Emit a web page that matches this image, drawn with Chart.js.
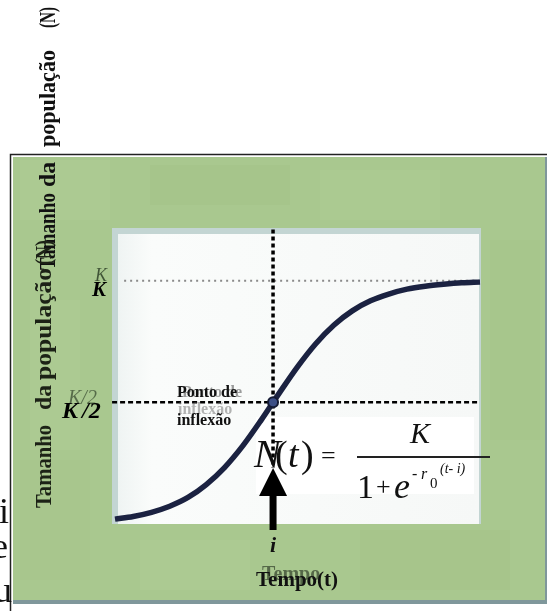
<!DOCTYPE html>
<html>
<head>
<meta charset="utf-8">
<title>Crescimento logístico</title>
<script src="https://cdn.jsdelivr.net/npm/chart.js@4.4.1/dist/chart.umd.min.js"></script>
<style>
  html, body { margin: 0; padding: 0; background: #ffffff; }
  #box { width: 547px; height: 611px; }
</style>
</head>
<body>
<div id="box"><canvas id="grafico" width="547" height="611"></canvas></div>
<script>
// Tempo (t) e tamanho da população, em frações de K
const tempo = [0, 0.5, 1, 1.5, 2, 2.5, 3, 3.5, 4, 4.5, 5, 5.5, 6, 6.5, 7, 7.5, 8, 8.5, 9, 9.5, 10];
const populacao = [0.020, 0.031, 0.048, 0.073, 0.109, 0.162, 0.232, 0.321, 0.426, 0.538, 0.646,
                   0.741, 0.818, 0.876, 0.917, 0.945, 0.965, 0.977, 0.985, 0.991, 0.994];

// Ponto de inflexão (i, K/2) e níveis de referência
const tInflexao = 4.33;
const nivelK = 1;
const nivelMeio = 0.5;
const pontaSeta = 0.23;

const serif = '"Liberation Serif", "Times New Roman", serif';
const verde = "#a9c88f";

// Palavra girada -90°, ajustada entre yIni (embaixo) e yFim (em cima)
function palavraVertical(ctx, str, x, yIni, yFim, font, color) {
    ctx.save();
    ctx.font = font;
    ctx.fillStyle = color;
    ctx.translate(x, yIni);
    ctx.rotate(-Math.PI / 2);
    const w = ctx.measureText(str).width;
    ctx.scale((yIni - yFim) / w, 1);
    ctx.fillText(str, 0, 0);
    ctx.restore();
}

function texto(ctx, str, x, y, font, color, align) {
    ctx.font = font;
    ctx.fillStyle = color;
    ctx.textAlign = align || "left";
    ctx.textBaseline = "alphabetic";
    ctx.fillText(str, x, y);
}

// Fundo: moldura verde, área branca e caixa da fórmula
const moldura = {
    id: "moldura",
    beforeDraw(chart) {
        const ctx = chart.ctx;
        const a = chart.chartArea;
        ctx.save();
        ctx.fillStyle = "#ffffff";
        ctx.fillRect(0, 0, chart.width, chart.height);

        // quadro verde
        ctx.fillStyle = verde;
        ctx.fillRect(13, 157, 534, 445);
        // manchas leves da textura
        const manchas = [[20, 160, 90, 60, "#b3d09b"], [150, 165, 140, 40, "#9fc084"], [320, 170, 120, 50, "#b1cf99"],
                         [490, 240, 50, 200, "#a3c389"], [30, 300, 50, 150, "#b2cf9a"], [140, 540, 110, 50, "#b4d09c"],
                         [360, 530, 150, 60, "#a1c186"], [20, 460, 70, 120, "#a4c48a"]];
        manchas.forEach(m => {
            ctx.globalAlpha = 0.3;
            ctx.fillStyle = m[4];
            ctx.fillRect(m[0], m[1], m[2], m[3]);
        });
        ctx.globalAlpha = 1;
        ctx.fillStyle = "#7f979b";
        ctx.fillRect(13, 600, 534, 4);
        ctx.fillRect(545, 157, 2, 447);

        // borda preta do quadro
        ctx.strokeStyle = "#222222";
        ctx.lineWidth = 1.5;
        ctx.beginPath();
        ctx.moveTo(547, 154.5);
        ctx.lineTo(10.5, 154.5);
        ctx.lineTo(10.5, 611);
        ctx.stroke();

        // área do gráfico com sombra azulada à esquerda e em cima
        ctx.fillStyle = "#c3d5d3";
        ctx.fillRect(a.left - 3, a.top - 4, a.right - a.left + 4, a.bottom - a.top + 4);
        const g = ctx.createLinearGradient(a.left, 0, a.right, 0);
        g.addColorStop(0, "#eef3f2");
        g.addColorStop(0.1, "#fafcfb");
        g.addColorStop(1, "#f6f8f7");
        ctx.fillStyle = g;
        ctx.fillRect(a.left + 3, a.top + 2, a.right - a.left - 4, a.bottom - a.top - 2);

        // caixa branca da fórmula
        ctx.fillStyle = "#ffffff";
        ctx.fillRect(256, 417, 218, 77);
        ctx.restore();
    },
    afterDatasetsDraw(chart) {
        const ctx = chart.ctx;
        const x = chart.scales.x.getPixelForValue(tInflexao);
        const yPonta = chart.scales.y.getPixelForValue(pontaSeta);
        ctx.save();
        // seta apontando para i
        ctx.fillStyle = "#000000";
        ctx.fillRect(x - 3.5, yPonta + 25, 7, 530 - yPonta - 25);
        ctx.beginPath();
        ctx.moveTo(x, yPonta);
        ctx.lineTo(x - 14, yPonta + 28);
        ctx.lineTo(x + 14, yPonta + 28);
        ctx.closePath();
        ctx.fill();
        ctx.restore();
    },
    afterDraw(chart) {
        const ctx = chart.ctx;
        ctx.save();
        const negrito = "bold 24px " + serif;

        // títulos do eixo y, girados
        palavraVertical(ctx, "Tamanho", 55, 270, 193, negrito, "#111");
        palavraVertical(ctx, "da", 55, 187, 162, negrito, "#111");
        palavraVertical(ctx, "população", 55, 147, 50, negrito, "#111");
        palavraVertical(ctx, "(N)", 55, 28, 7, negrito, "#111");

        palavraVertical(ctx, "Tamanho", 51, 508, 425, negrito, "#1c2216");
        palavraVertical(ctx, "da", 51, 410, 385, negrito, "#1c2216");
        palavraVertical(ctx, "população", 51, 380, 268, negrito, "#1c2216");
        palavraVertical(ctx, "(N)", 51, 265, 240, negrito, "#1c2216");

        // K e K/2
        texto(ctx, "K", 95, 281, "italic 18px " + serif, "rgba(30,45,25,0.75)");
        texto(ctx, "K", 92, 296, "bold italic 21px " + serif, "#000");
        texto(ctx, "K/2", 68, 404, "italic 20px " + serif, "rgba(30,45,25,0.6)");
        texto(ctx, "K", 62, 418, "bold italic 24px " + serif, "#000");
        texto(ctx, "/2", 82, 418, "bold italic 24px " + serif, "#000");

        // ponto de inflexão
        texto(ctx, "Ponto de", 182, 397, "bold 16px " + serif, "rgba(60,60,60,0.5)");
        texto(ctx, "Ponto de", 177, 397, "bold 16px " + serif, "#111");
        texto(ctx, "inflexão", 178, 414, "bold 16px " + serif, "rgba(90,90,90,0.45)");
        texto(ctx, "inflexão", 177, 425, "bold 16px " + serif, "#111");

        // fórmula N(t) = K / (1 + e^(-r0 (t-i)))
        texto(ctx, "N", 254, 467, "italic 40px " + serif, "#111");
        texto(ctx, "(", 275, 467, "38px " + serif, "#111");
        texto(ctx, "t", 288, 467, "italic 38px " + serif, "#111");
        texto(ctx, ")", 301, 467, "38px " + serif, "#111");
        texto(ctx, "=", 321, 464, "26px " + serif, "#111");
        texto(ctx, "K", 410, 443, "italic 30px " + serif, "#111");
        ctx.fillStyle = "#222";
        ctx.fillRect(357, 456, 133, 2);
        texto(ctx, "1", 357, 498, "34px " + serif, "#111");
        texto(ctx, "+", 376, 495, "26px " + serif, "#111");
        texto(ctx, "e", 394, 498, "italic 36px " + serif, "#111");
        texto(ctx, "-", 412, 479, "16px " + serif, "#111");
        texto(ctx, "r", 421, 479, "italic 16px " + serif, "#111");
        texto(ctx, "0", 430, 488, "15px " + serif, "#111");
        texto(ctx, "(t- i)", 440, 473, "italic 14px " + serif, "#111");

        // eixo x
        texto(ctx, "i", 273, 552, "bold italic 22px " + serif, "#111", "center");
        texto(ctx, "Tempo", 262, 580, "bold 20px " + serif, "rgba(30,40,25,0.6)");
        texto(ctx, "Tempo(t)", 256, 586, "bold 21px " + serif, "#111");

        // letras cortadas na margem esquerda
        texto(ctx, "i", -1, 523, "36px " + serif, "#111");
        texto(ctx, "e", -8, 558, "36px " + serif, "#111");
        texto(ctx, "u", -6, 602, "36px " + serif, "#111");
        ctx.restore();
    }
};

const curva = tempo.map((t, i) => ({ x: t, y: populacao[i] }));

new Chart(document.getElementById("grafico"), {
    type: "line",
    plugins: [moldura],
    data: {
        datasets: [
            {
                // curva logística
                data: curva,
                borderColor: "#1b2241",
                borderWidth: 5.5,
                cubicInterpolationMode: "monotone",
                pointRadius: 0,
                clip: 6,
                order: 1
            },
            {
                // ponto de inflexão
                data: [{ x: tInflexao, y: nivelMeio }],
                showLine: false,
                pointRadius: 5,
                pointBackgroundColor: "#3c4f86",
                pointBorderColor: "#141a33",
                pointBorderWidth: 2,
                clip: false,
                order: 0
            },
            {
                // linha pontilhada em K
                data: [{ x: 0.25, y: nivelK }, { x: 10, y: nivelK }],
                borderColor: "#8a8a8a",
                borderWidth: 2,
                borderDash: [2, 4],
                pointRadius: 0,
                order: 4
            },
            {
                // linha tracejada em K/2
                data: [{ x: -0.08, y: nivelMeio }, { x: 10, y: nivelMeio }],
                borderColor: "#000000",
                borderWidth: 2.5,
                borderDash: [5, 3],
                pointRadius: 0,
                clip: false,
                order: 3
            },
            {
                // linha vertical em t = i
                data: [{ x: tInflexao, y: 1.21 }, { x: tInflexao, y: pontaSeta }],
                borderColor: "#000000",
                borderWidth: 3.5,
                borderDash: [4, 3],
                pointRadius: 0,
                clip: false,
                order: 2
            }
        ]
    },
    options: {
        responsive: false,
        animation: false,
        layout: { padding: { left: 115, right: 67, top: 232, bottom: 87 } },
        plugins: {
            legend: { display: false },
            tooltip: { enabled: false }
        },
        scales: {
            x: { type: "linear", min: 0, max: 10, display: false },
            y: { min: 0, max: 1.2, display: false }
        }
    }
});
</script>
</body>
</html>
